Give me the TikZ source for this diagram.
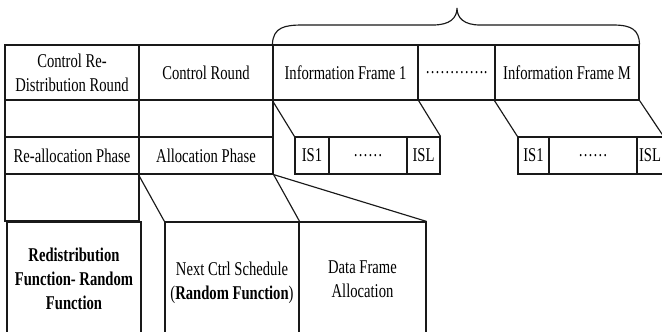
\documentclass[tikz,border=0pt]{standalone}
\usepackage{fontspec}
\setmainfont[FakeStretch=0.75]{Liberation Serif}
\begin{document}
\begin{tikzpicture}[x=1pt,y=-1pt,
  every node/.style={font=\fontsize{19.5}{24}\selectfont},
  cell/.style={draw=black!90, line width=1.15pt, rectangle, inner sep=0pt, align=center, text=black},
  link/.style={draw=black!90, line width=1.15pt}]
\useasboundingbox (0,0) rectangle (662,332);
\fill[white] (0,0) rectangle (662,332);
% top row
\node[cell, minimum width=134pt, minimum height=55pt] (A1) at (72,72.5) {Control Re-\\Distribution Round};
\node[cell, minimum width=134pt, minimum height=55pt] (B1) at (206,72.5) {Control Round};
\node[cell, minimum width=145pt, minimum height=55pt] (C1) at (345.5,72.5) {Information Frame 1};
\node[cell, minimum width=77pt, minimum height=55pt] (D1) at (456.5,72.5) {………….};
\node[cell, minimum width=144pt, minimum height=55pt] (E1) at (567,72.5) {Information Frame M};
% second and third rows
\node[cell, minimum width=134pt, minimum height=37pt] (A2) at (72,118.5) {};
\node[cell, minimum width=134pt, minimum height=37pt] (B2) at (206,118.5) {};
\node[cell, minimum width=134pt, minimum height=37pt] (A3) at (72,155.5) {Re-allocation Phase};
\node[cell, minimum width=134pt, minimum height=37pt] (B3) at (206,155.5) {Allocation Phase};
\node[cell, minimum width=134pt, minimum height=47pt] (A4) at (72,197.5) {};
% IS groups
\node[cell, minimum width=34pt, minimum height=37pt] (Sa1) at (312,155.5) {IS1};
\node[cell, minimum width=78pt, minimum height=37pt] (Sa2) at (368,155.5) {……};
\node[cell, minimum width=33pt, minimum height=37pt] (Sa3) at (423.5,155.5) {ISL};
\node[cell, minimum width=31pt, minimum height=37pt] (Sb1) at (533.5,155.5) {IS1};
\node[cell, minimum width=88pt, minimum height=37pt] (Sb2) at (593,155.5) {……};
\node[cell, minimum width=26pt, minimum height=37pt] (Sb3) at (650,155.5) {ISL};
% bottom boxes
\node[cell, minimum width=134pt, minimum height=114pt, font=\fontsize{19.5}{24}\selectfont\bfseries] (R) at (74,279) {Redistribution\\Function- Random\\Function};
\node[cell, minimum width=134pt, minimum height=122pt] (N) at (232,283) {Next Ctrl Schedule\\(\textbf{Random Function})};
\node[cell, minimum width=127pt, minimum height=114pt] (D) at (362.5,279) {Data Frame\\Allocation};
% slanted connectors
\draw[link] (C1.south west) -- (Sa1.north west);
\draw[link] (C1.south east) -- (Sa3.north east);
\draw[link] (E1.south west) -- (Sb1.north west);
\draw[link] (E1.south east) -- (Sb3.north east);
\draw[link] (B3.south west) -- (N.north west);
\draw[link] (B3.south east) -- (N.north east);
\draw[link] (B3.south east) -- (D.north east);
% brace
\draw[link] (C1.north west) .. controls (273,27) and (285,25) .. (303,25) -- (433,25)
  .. controls (450,25) and (457,18) .. (457,8)
  .. controls (457,18) and (464,25) .. (480,25) -- (613,25)
  .. controls (632,25) and (639,30) .. (E1.north east);
\end{tikzpicture}
\end{document}
